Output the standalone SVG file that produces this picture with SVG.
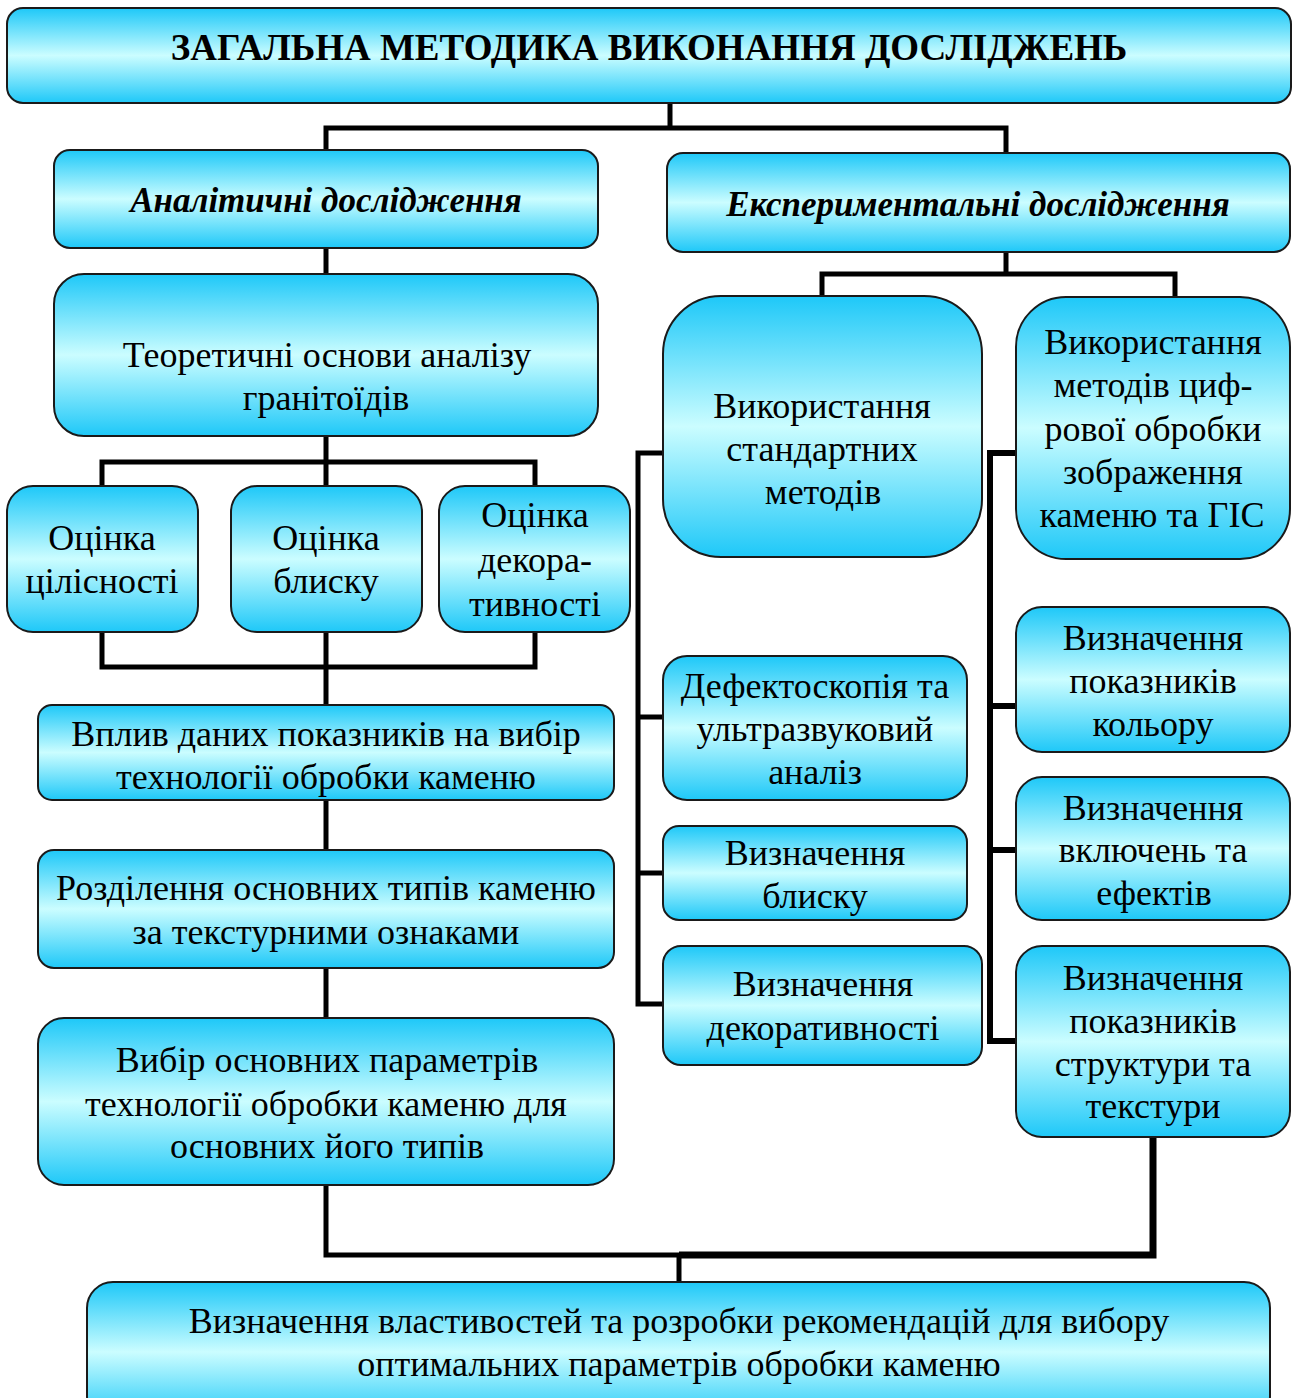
<svg xmlns="http://www.w3.org/2000/svg" width="1302" height="1398" viewBox="0 0 1302 1398">
<defs>
<linearGradient id="g" x1="0" y1="0" x2="0" y2="1">
<stop offset="0" stop-color="#1ec8f8"/>
<stop offset="0.5" stop-color="#cbfdff"/>
<stop offset="1" stop-color="#1ec8f8"/>
</linearGradient>
</defs>
<rect width="1302" height="1398" fill="#fff"/>
<g id="connectors" fill="none" stroke="#000" stroke-width="5">
<path d="M670,103 V128 M326,150 V128 H1006 V153"/>
<path d="M326,248 V274"/>
<path d="M326,436 V486 M102,486 V462 H535 V486"/>
<path d="M102,632 V667 H535 V632 M326,632 V705"/>
<path d="M326,800 V850"/>
<path d="M326,968 V1018"/>
<path d="M1006,252 V274 M822,296 V274 H1175 V297"/>
<path d="M663,453 H638 V1004 H663 M638,717 H663 M638,873 H663"/>
<path stroke-width="6" d="M1016,453 H990 V1041 H1016 M990,706 H1016 M990,850 H1016"/>
<path d="M326,1185 V1255 H680"/>
<path stroke-width="7" d="M679,1255 H1153 V1137"/>
<path d="M679,1255 V1282"/>
</g>
<g id="title"><rect fill="url(#g)" stroke="#1a1a1a" stroke-width="2" x="7" y="8" width="1284" height="95" rx="16"/>
<text font-family="Liberation Serif, Tinos, Times New Roman, serif" font-size="37" font-weight="bold" text-anchor="middle" x="649" y="60">ЗАГАЛЬНА МЕТОДИКА ВИКОНАННЯ ДОСЛІДЖЕНЬ</text></g>
<g id="analytic"><rect fill="url(#g)" stroke="#1a1a1a" stroke-width="2" x="54" y="150" width="544" height="98" rx="16"/>
<text font-family="Liberation Serif, Tinos, Times New Roman, serif" font-size="35" font-weight="bold" font-style="italic" text-anchor="middle" x="326" y="212">Аналітичні дослідження</text></g>
<g id="experimental"><rect fill="url(#g)" stroke="#1a1a1a" stroke-width="2" x="667" y="153" width="623" height="99" rx="16"/>
<text font-family="Liberation Serif, Tinos, Times New Roman, serif" font-size="35" font-weight="bold" font-style="italic" text-anchor="middle" x="978" y="216">Експериментальні дослідження</text></g>
<g id="theory"><rect fill="url(#g)" stroke="#1a1a1a" stroke-width="2" x="54" y="274" width="544" height="162" rx="30"/>
<text font-family="Liberation Serif, Tinos, Times New Roman, serif" font-size="36" text-anchor="middle" x="327" y="367">Теоретичні основи аналізу</text>
<text font-family="Liberation Serif, Tinos, Times New Roman, serif" font-size="36" text-anchor="middle" x="326" y="410">гранітоїдів</text></g>
<g id="integrity"><rect fill="url(#g)" stroke="#1a1a1a" stroke-width="2" x="7" y="486" width="191" height="146" rx="26"/>
<text font-family="Liberation Serif, Tinos, Times New Roman, serif" font-size="36" text-anchor="middle" x="102" y="550">Оцінка</text>
<text font-family="Liberation Serif, Tinos, Times New Roman, serif" font-size="36" text-anchor="middle" x="102" y="593">цілісності</text></g>
<g id="gloss"><rect fill="url(#g)" stroke="#1a1a1a" stroke-width="2" x="231" y="486" width="191" height="146" rx="26"/>
<text font-family="Liberation Serif, Tinos, Times New Roman, serif" font-size="36" text-anchor="middle" x="326" y="550">Оцінка</text>
<text font-family="Liberation Serif, Tinos, Times New Roman, serif" font-size="36" text-anchor="middle" x="326" y="593">блиску</text></g>
<g id="decor"><rect fill="url(#g)" stroke="#1a1a1a" stroke-width="2" x="439" y="486" width="191" height="146" rx="26"/>
<text font-family="Liberation Serif, Tinos, Times New Roman, serif" font-size="36" text-anchor="middle" x="535" y="527">Оцінка</text>
<text font-family="Liberation Serif, Tinos, Times New Roman, serif" font-size="36" text-anchor="middle" x="535" y="572">декора-</text>
<text font-family="Liberation Serif, Tinos, Times New Roman, serif" font-size="36" text-anchor="middle" x="535" y="616">тивності</text></g>
<g id="influence"><rect fill="url(#g)" stroke="#1a1a1a" stroke-width="2" x="38" y="705" width="576" height="95" rx="14"/>
<text font-family="Liberation Serif, Tinos, Times New Roman, serif" font-size="36" text-anchor="middle" x="326" y="746">Вплив даних показників на вибір</text>
<text font-family="Liberation Serif, Tinos, Times New Roman, serif" font-size="36" text-anchor="middle" x="326" y="789">технології обробки каменю</text></g>
<g id="separation"><rect fill="url(#g)" stroke="#1a1a1a" stroke-width="2" x="38" y="850" width="576" height="118" rx="16"/>
<text font-family="Liberation Serif, Tinos, Times New Roman, serif" font-size="36" text-anchor="middle" x="326" y="900">Розділення основних типів каменю</text>
<text font-family="Liberation Serif, Tinos, Times New Roman, serif" font-size="36" text-anchor="middle" x="326" y="944">за текстурними ознаками</text></g>
<g id="choice"><rect fill="url(#g)" stroke="#1a1a1a" stroke-width="2" x="38" y="1018" width="576" height="167" rx="26"/>
<text font-family="Liberation Serif, Tinos, Times New Roman, serif" font-size="36" text-anchor="middle" x="327" y="1072">Вибір основних параметрів</text>
<text font-family="Liberation Serif, Tinos, Times New Roman, serif" font-size="36" text-anchor="middle" x="326" y="1116">технології обробки каменю для</text>
<text font-family="Liberation Serif, Tinos, Times New Roman, serif" font-size="36" text-anchor="middle" x="327" y="1158">основних його типів</text></g>
<g id="standard"><rect fill="url(#g)" stroke="#1a1a1a" stroke-width="2" x="663" y="296" width="319" height="261" rx="58"/>
<text font-family="Liberation Serif, Tinos, Times New Roman, serif" font-size="36" text-anchor="middle" x="822" y="418">Використання</text>
<text font-family="Liberation Serif, Tinos, Times New Roman, serif" font-size="36" text-anchor="middle" x="822" y="461">стандартних</text>
<text font-family="Liberation Serif, Tinos, Times New Roman, serif" font-size="36" text-anchor="middle" x="823" y="504">методів</text></g>
<g id="digital"><rect fill="url(#g)" stroke="#1a1a1a" stroke-width="2" x="1016" y="297" width="274" height="262" rx="50"/>
<text font-family="Liberation Serif, Tinos, Times New Roman, serif" font-size="36" text-anchor="middle" x="1153" y="354">Використання</text>
<text font-family="Liberation Serif, Tinos, Times New Roman, serif" font-size="36" text-anchor="middle" x="1153" y="397">методів циф-</text>
<text font-family="Liberation Serif, Tinos, Times New Roman, serif" font-size="36" text-anchor="middle" x="1153" y="441">рової обробки</text>
<text font-family="Liberation Serif, Tinos, Times New Roman, serif" font-size="36" text-anchor="middle" x="1153" y="484">зображення</text>
<text font-family="Liberation Serif, Tinos, Times New Roman, serif" font-size="36" text-anchor="middle" x="1152" y="527">каменю та ГІС</text></g>
<g id="defecto"><rect fill="url(#g)" stroke="#1a1a1a" stroke-width="2" x="663" y="656" width="304" height="144" rx="24"/>
<text font-family="Liberation Serif, Tinos, Times New Roman, serif" font-size="36" text-anchor="middle" x="815" y="698">Дефектоскопія та</text>
<text font-family="Liberation Serif, Tinos, Times New Roman, serif" font-size="36" text-anchor="middle" x="815" y="741">ультразвуковий</text>
<text font-family="Liberation Serif, Tinos, Times New Roman, serif" font-size="36" text-anchor="middle" x="815" y="784">аналіз</text></g>
<g id="gloss2"><rect fill="url(#g)" stroke="#1a1a1a" stroke-width="2" x="663" y="826" width="304" height="94" rx="16"/>
<text font-family="Liberation Serif, Tinos, Times New Roman, serif" font-size="36" text-anchor="middle" x="815" y="865">Визначення</text>
<text font-family="Liberation Serif, Tinos, Times New Roman, serif" font-size="36" text-anchor="middle" x="815" y="908">блиску</text></g>
<g id="decor2"><rect fill="url(#g)" stroke="#1a1a1a" stroke-width="2" x="663" y="946" width="319" height="119" rx="18"/>
<text font-family="Liberation Serif, Tinos, Times New Roman, serif" font-size="36" text-anchor="middle" x="823" y="996">Визначення</text>
<text font-family="Liberation Serif, Tinos, Times New Roman, serif" font-size="36" text-anchor="middle" x="823" y="1040">декоративності</text></g>
<g id="color"><rect fill="url(#g)" stroke="#1a1a1a" stroke-width="2" x="1016" y="607" width="274" height="145" rx="26"/>
<text font-family="Liberation Serif, Tinos, Times New Roman, serif" font-size="36" text-anchor="middle" x="1153" y="650">Визначення</text>
<text font-family="Liberation Serif, Tinos, Times New Roman, serif" font-size="36" text-anchor="middle" x="1153" y="693">показників</text>
<text font-family="Liberation Serif, Tinos, Times New Roman, serif" font-size="36" text-anchor="middle" x="1153" y="736">кольору</text></g>
<g id="inclusions"><rect fill="url(#g)" stroke="#1a1a1a" stroke-width="2" x="1016" y="777" width="274" height="143" rx="26"/>
<text font-family="Liberation Serif, Tinos, Times New Roman, serif" font-size="36" text-anchor="middle" x="1153" y="820">Визначення</text>
<text font-family="Liberation Serif, Tinos, Times New Roman, serif" font-size="36" text-anchor="middle" x="1153" y="862">включень та</text>
<text font-family="Liberation Serif, Tinos, Times New Roman, serif" font-size="36" text-anchor="middle" x="1154" y="905">ефектів</text></g>
<g id="structure"><rect fill="url(#g)" stroke="#1a1a1a" stroke-width="2" x="1016" y="946" width="274" height="191" rx="26"/>
<text font-family="Liberation Serif, Tinos, Times New Roman, serif" font-size="36" text-anchor="middle" x="1153" y="990">Визначення</text>
<text font-family="Liberation Serif, Tinos, Times New Roman, serif" font-size="36" text-anchor="middle" x="1153" y="1033">показників</text>
<text font-family="Liberation Serif, Tinos, Times New Roman, serif" font-size="36" text-anchor="middle" x="1153" y="1076">структури та</text>
<text font-family="Liberation Serif, Tinos, Times New Roman, serif" font-size="36" text-anchor="middle" x="1153" y="1118">текстури</text></g>
<g id="result"><rect fill="url(#g)" stroke="#1a1a1a" stroke-width="2" x="87" y="1282" width="1183" height="140" rx="26"/>
<text font-family="Liberation Serif, Tinos, Times New Roman, serif" font-size="36" text-anchor="middle" x="679" y="1333">Визначення властивостей та розробки рекомендацій для вибору</text>
<text font-family="Liberation Serif, Tinos, Times New Roman, serif" font-size="36" text-anchor="middle" x="679" y="1376">оптимальних параметрів обробки каменю</text></g>
</svg>
